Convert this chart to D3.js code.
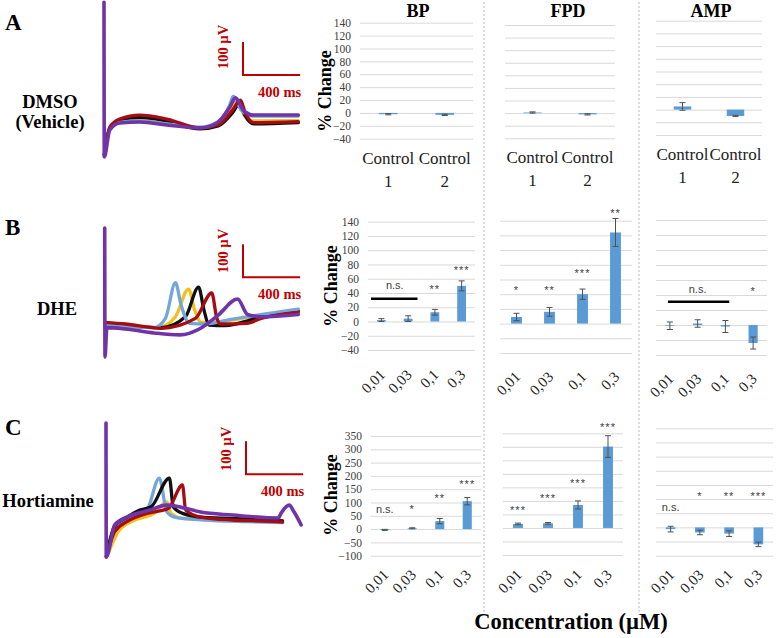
<!DOCTYPE html>
<html><head><meta charset="utf-8">
<script src="https://cdn.jsdelivr.net/npm/d3@7"></script>
<style>body{margin:0;background:#fff}svg{display:block}</style>
</head><body><svg id="c" width="776" height="638"></svg>
<script>
// ---------------- DATA ----------------
const rowLabels = ["A", "B", "C"];
const treatments = [["DMSO", "(Vehicle)"], ["DHE"], ["Hortiamine"]];
const params = ["BP", "FPD", "AMP"];
const catsA = ["Control 1", "Control 2"];
const catsBC = ["0,01", "0,03", "0,1", "0,3"];
const ticksAB = [-40, -20, 0, 20, 40, 60, 80, 100, 120, 140];
const ticksC = [-100, -50, 0, 50, 100, 150, 200, 250, 300, 350];

// % change (mean) and error
const bpA = [-2, -3],            bpAErr = [1, 1];
const fpdA = [1, -2],            fpdAErr = [1, 1];
const ampA = [5, -10],           ampAErr = [6, 1];
const bpB = [2, 4, 13, 50],      bpBErr = [2, 4, 4, 7];
const fpdB = [9, 16, 40, 124],   fpdBErr = [5, 6, 7, 19];
const ampB = [-1, 2, -2, -24],   ampBErr = [5, 5, 8, 8];
const bpC = [-3, 3, 30, 105],    bpCErr = [2, 2, 10, 14];
const fpdC = [15, 17, 85, 301],  fpdCErr = [3, 3, 15, 40];
const ampC = [-6, -18, -22, -60], ampCErr = [10, 8, 10, 8];

// significance marks: label, categories covered, level (data units), bracket level
const sigBP_B = [{label: "n.s.", cats: ["0,01", "0,03"], level: 50, line: 32}, {label: "**", cats: ["0,1"], level: 48}, {label: "***", cats: ["0,3"], level: 75}];
const sigFPD_B = [{label: "*", cats: ["0,01"], level: 48}, {label: "**", cats: ["0,03"], level: 48}, {label: "***", cats: ["0,1"], level: 72}, {label: "**", cats: ["0,3"], level: 153}];
const sigAMP_B = [{label: "n.s.", cats: ["0,01", "0,1"], level: 48, line: 31}, {label: "*", cats: ["0,3"], level: 48}];
const sigBP_C = [{label: "n.s.", cats: ["0,01"], level: 75}, {label: "*", cats: ["0,03"], level: 83}, {label: "**", cats: ["0,1"], level: 124}, {label: "***", cats: ["0,3"], level: 177}];
const sigFPD_C = [{label: "***", cats: ["0,01"], level: 74}, {label: "***", cats: ["0,03"], level: 118}, {label: "***", cats: ["0,1"], level: 174}, {label: "***", cats: ["0,3"], level: 381}];
const sigAMP_C = [{label: "n.s.", cats: ["0,01"], level: 69}, {label: "*", cats: ["0,03"], level: 118}, {label: "**", cats: ["0,1"], level: 118}, {label: "***", cats: ["0,3"], level: 118}];

// field potential traces: [time ms, µV]
const traceColors = {yellow: "#f4c01c", black: "#111111", blue: "#74a6d8", red: "#a50d12", purple: "#7033a8"};
const traceA_yellow = [[2,-108],[40,-27],[110,-5],[250,0],[440,-10],[670,-24],[800,-12],[890,38],[935,58],[985,12],[1050,-3],[1360,-2]];
const traceA_black  = [[2,-105],[40,-25],[110,0],[250,8],[440,-3],[670,-27],[800,-18],[900,22],[950,50],[985,15],[1050,-12],[1360,-8]];
const traceA_blue   = [[2,-108],[40,-30],[110,-7],[250,-3],[440,-12],[670,-22],[800,-5],[880,45],[905,72],[960,30],[1040,12],[1360,12]];
const traceA_red    = [[2,-105],[40,-22],[110,3],[250,15],[440,3],[670,-24],[800,-15],[900,30],[955,60],[990,20],[1050,-8],[1360,-5]];
const traceA_purple = [[0,357],[2,-112],[40,-30],[110,-9],[250,-6],[440,-15],[670,-24],[790,-9],[880,39],[920,67],[975,30],[1045,15],[1360,15]];
const traceB_yellow = [[7,5],[150,0],[380,-8],[500,25],[592,109],[635,45],[680,8],[800,10],[1000,22],[1360,45]];
const traceB_black  = [[7,0],[150,-3],[400,-8],[570,25],[662,115],[700,45],[735,0],[850,-2],[1050,18],[1360,42]];
const traceB_blue   = [[7,3],[150,-3],[350,-8],[430,20],[500,128],[540,60],[600,5],[700,3],[900,18],[1360,48]];
const traceB_red    = [[7,8],[150,3],[400,-10],[640,20],[754,97],[790,20],[815,3],[1000,5],[1100,20],[1360,38]];
const traceB_purple = [[5,294],[7,-97],[20,-8],[150,-12],[350,-24],[530,-30],[680,-9],[800,30],[935,79],[1005,32],[1100,25],[1360,32]];
const traceC_yellow = [[16,-112],[50,-80],[100,-35],[200,-3],[350,20],[440,55],[470,20],[550,5],[700,3],[1000,0],[1250,-2]];
const traceC_black  = [[16,-110],[75,-18],[160,8],[250,30],[330,40],[458,127],[485,40],[550,20],[700,8],[1000,3],[1250,-3]];
const traceC_blue   = [[16,-110],[75,-20],[160,3],[300,30],[387,127],[440,25],[500,8],[700,0],[1000,-5],[1250,-8]];
const traceC_red    = [[16,-112],[75,-35],[160,-5],[300,20],[450,35],[549,106],[572,30],[676,9],[900,0],[1100,-3],[1250,-6]];
const traceC_purple = [[14,294],[16,-112],[75,-15],[160,9],[320,30],[440,45],[535,39],[676,24],[900,15],[1220,6],[1240,21],[1296,45],[1331,24],[1380,-15]];
const scaleBarMs = 400, scaleBarUv = 100;
const scaleBarAnchors = [[973,136],[973,145],[994,139]]; // [ms, µV] of the corner

// ---------------- DRAW ----------------
const svg = d3.select("#c");
const serif = "'Liberation Serif','Times New Roman',serif";
const sans = "'Liberation Sans',Arial,sans-serif";
const red = "#c00000";

// row labels & treatments
const rowLetterY = [30, 235, 435];
const treatY = [[108, 128], [315], [507]];
const treatX = [50, 57, 48];
rowLabels.forEach((r, i) => {
  svg.append("text").attr("x", 5).attr("y", rowLetterY[i]).text(r)
    .attr("font-family", serif).attr("font-weight", "bold").attr("font-size", 23);
  treatments[i].forEach((t, j) => {
    svg.append("text").attr("x", treatX[i]).attr("y", treatY[i][j]).text(t)
      .attr("text-anchor", "middle").attr("font-family", serif).attr("font-weight", "bold").attr("font-size", 18.5);
  });
});

// traces (draw order per row)
const traceSets = [
  [["yellow", traceA_yellow], ["black", traceA_black], ["blue", traceA_blue], ["red", traceA_red], ["purple", traceA_purple]],
  [["yellow", traceB_yellow], ["black", traceB_black], ["blue", traceB_blue], ["red", traceB_red], ["purple", traceB_purple]],
  [["yellow", traceC_yellow], ["blue", traceC_blue], ["black", traceC_black], ["red", traceC_red], ["purple", traceC_purple]]
];
const traceBase = [120, 325, 520];
const sbTextY = [[47, 97], [251, 299], [449, 496]];
traceSets.forEach((set, i) => {
  const tx = d3.scaleLinear().domain([0, 1400]).range([104, 304]);
  const ty = d3.scaleLinear().domain([0, 100]).range([traceBase[i], traceBase[i] - 33]);
  const line = d3.line().x(d => tx(d[0])).y(d => ty(d[1])).curve(d3.curveMonotoneX);
  set.forEach(([name, tr]) => {
    svg.append("path").attr("d", line(tr)).attr("fill", "none")
      .attr("stroke", traceColors[name]).attr("stroke-width", name === "purple" ? 3.6 : 3.3)
      .attr("stroke-linejoin", "round").attr("stroke-linecap", "round");
  });
  const a = scaleBarAnchors[i];
  svg.append("path").attr("fill", "none").attr("stroke", red).attr("stroke-width", 2)
    .attr("d", `M${tx(a[0])},${ty(a[1] + scaleBarUv)}L${tx(a[0])},${ty(a[1])}L${tx(a[0] + scaleBarMs)},${ty(a[1])}`);
  svg.append("text").attr("transform", `translate(${tx(a[0]) - 15},${sbTextY[i][0]}) rotate(-90)`)
    .attr("text-anchor", "middle").text("100 µV").attr("fill", red)
    .attr("font-family", serif).attr("font-weight", "bold").attr("font-size", 14.5);
  svg.append("text").attr("x", tx(a[0]) + 15).attr("y", sbTextY[i][1]).text("400 ms").attr("fill", red)
    .attr("font-family", serif).attr("font-weight", "bold").attr("font-size", 14.5);
});

// dividers
[484, 639].forEach(x => {
  svg.append("line").attr("x1", x).attr("x2", x).attr("y1", 2).attr("y2", 615)
    .attr("stroke", "#b8b8b8").attr("stroke-dasharray", "2,2").attr("stroke-width", 1);
});

// titles
const titleX = [418, 568, 711];
params.forEach((p, i) => svg.append("text").attr("x", titleX[i]).attr("y", 17).text(p)
  .attr("text-anchor", "middle").attr("font-family", serif).attr("font-weight", "bold").attr("font-size", 18));

function barChart(cfg) {
  const x = d3.scaleBand().domain(cfg.cats).range(cfg.xr);
  const y = d3.scaleLinear().domain(cfg.domain).range(cfg.yr);
  const g = svg.append("g");
  const ax = g.append("g").attr("transform", `translate(${cfg.xr[0]},0)`)
    .call(d3.axisLeft(y).tickValues(cfg.ticks).tickSize(-(cfg.xr[1] - cfg.xr[0])).tickPadding(9)
      .tickFormat(cfg.showTicks ? d3.format("d") : () => ""));
  ax.select(".domain").remove();
  ax.selectAll(".tick line").attr("stroke", "#d9d9d9");
  ax.selectAll(".tick text").attr("font-family", serif).attr("font-size", 11.5).attr("fill", "#404040");
  const bw = x.bandwidth() * 0.33;
  cfg.vals.forEach((v, i) => {
    const cx = x(cfg.cats[i]) + x.bandwidth() / 2;
    g.append("rect").attr("x", cx - bw / 2).attr("width", bw)
      .attr("y", y(Math.max(0, v))).attr("height", Math.abs(y(v) - y(0)))
      .attr("fill", "#5b9bd5");
    const e = cfg.errs[i];
    g.append("path").attr("fill", "none").attr("stroke", "#505050").attr("stroke-width", 1)
      .attr("d", `M${cx},${y(v - e)}L${cx},${y(v + e)}M${cx - 3},${y(v - e)}L${cx + 3},${y(v - e)}M${cx - 3},${y(v + e)}L${cx + 3},${y(v + e)}`);
  });
  const inset = cfg.bracketInset || [3, 4];
  (cfg.sig || []).forEach(s => {
    const x0 = x(s.cats[0]), x1 = x(s.cats[s.cats.length - 1]) + x.bandwidth();
    const cx = (x0 + x1) / 2;
    const isStar = s.label.indexOf("*") >= 0;
    g.append("text").attr("x", cx).attr("y", y(s.level) + (isStar ? 6 : 3.5)).text(s.label)
      .attr("text-anchor", "middle").attr("font-family", sans).attr("font-size", 11)
      .attr("letter-spacing", isStar ? 1 : 0).attr("fill", "#404040");
    if (s.line !== undefined) {
      g.append("line").attr("x1", x0 + inset[0]).attr("x2", x1 - inset[1]).attr("y1", y(s.line)).attr("y2", y(s.line))
        .attr("stroke", "#000").attr("stroke-width", 2.5);
    }
  });
  // category labels
  if (cfg.rowA) {
    cfg.cats.forEach(c => {
      const cx = x(c) + x.bandwidth() / 2;
      const parts = c.split(" ");
      g.append("text").attr("x", cx).attr("y", cfg.labelY).text(parts[0]).attr("text-anchor", "middle")
        .attr("font-family", serif).attr("font-size", 17).attr("fill", "#222");
      g.append("text").attr("x", cx).attr("y", cfg.labelY + 23).text(parts[1]).attr("text-anchor", "middle")
        .attr("font-family", serif).attr("font-size", 17).attr("fill", "#222");
    });
  } else {
    cfg.cats.forEach(c => {
      const cx = x(c) + x.bandwidth() / 2;
      g.append("text").attr("transform", `translate(${cx + 1},${cfg.labelY}) rotate(-45)`)
        .attr("text-anchor", "end").attr("dy", "0.35em").text(c)
        .attr("font-family", serif).attr("font-size", 15).attr("fill", "#222");
    });
  }
  if (cfg.showTicks) {
    svg.append("text").attr("transform", `translate(${cfg.ylab[0]},${cfg.ylab[1]}) rotate(-90)`)
      .attr("text-anchor", "middle").text("% Change")
      .attr("font-family", serif).attr("font-weight", "bold").attr("font-size", 18);
  }
}

const dA = [-40, 140], dC = [-100, 350];
barChart({cats: catsA, vals: bpA, errs: bpAErr, domain: dA, ticks: ticksAB, xr: [360, 473], yr: [138.7, 22.7], showTicks: true, rowA: true, labelY: 164, ylab: [331, 91]});
barChart({cats: catsA, vals: fpdA, errs: fpdAErr, domain: dA, ticks: ticksAB, xr: [505, 615], yr: [138.3, 25], rowA: true, labelY: 163});
barChart({cats: catsA, vals: ampA, errs: ampAErr, domain: dA, ticks: ticksAB, xr: [656, 762], yr: [135, 20.7], rowA: true, labelY: 160});
barChart({cats: catsBC, vals: bpB, errs: bpBErr, domain: dA, ticks: ticksAB, xr: [368, 475], yr: [350, 221.7], showTicks: true, sig: sigBP_B, labelY: 372, ylab: [337, 286]});
barChart({cats: catsBC, vals: fpdB, errs: fpdBErr, domain: dA, ticks: ticksAB, xr: [500, 632], yr: [353, 220.7], sig: sigFPD_B, labelY: 374});
barChart({cats: catsBC, vals: ampB, errs: ampBErr, domain: dA, ticks: ticksAB, xr: [656, 767], yr: [355, 220], sig: sigAMP_B, labelY: 376, bracketInset: [12, 10]});
barChart({cats: catsBC, vals: bpC, errs: bpCErr, domain: dC, ticks: ticksC, xr: [371, 481], yr: [555.7, 436], showTicks: true, sig: sigBP_C, labelY: 572, ylab: [337, 495]});
barChart({cats: catsBC, vals: fpdC, errs: fpdCErr, domain: dC, ticks: ticksC, xr: [503, 623], yr: [555, 433.3], sig: sigFPD_C, labelY: 572});
barChart({cats: catsBC, vals: ampC, errs: ampCErr, domain: dC, ticks: ticksC, xr: [656, 773], yr: [555.7, 428.3], sig: sigAMP_C, labelY: 572});

svg.append("text").attr("x", 571).attr("y", 629).text("Concentration (µM)").attr("text-anchor", "middle")
  .attr("font-family", serif).attr("font-weight", "bold").attr("font-size", 22.5);
</script>
</body></html>
